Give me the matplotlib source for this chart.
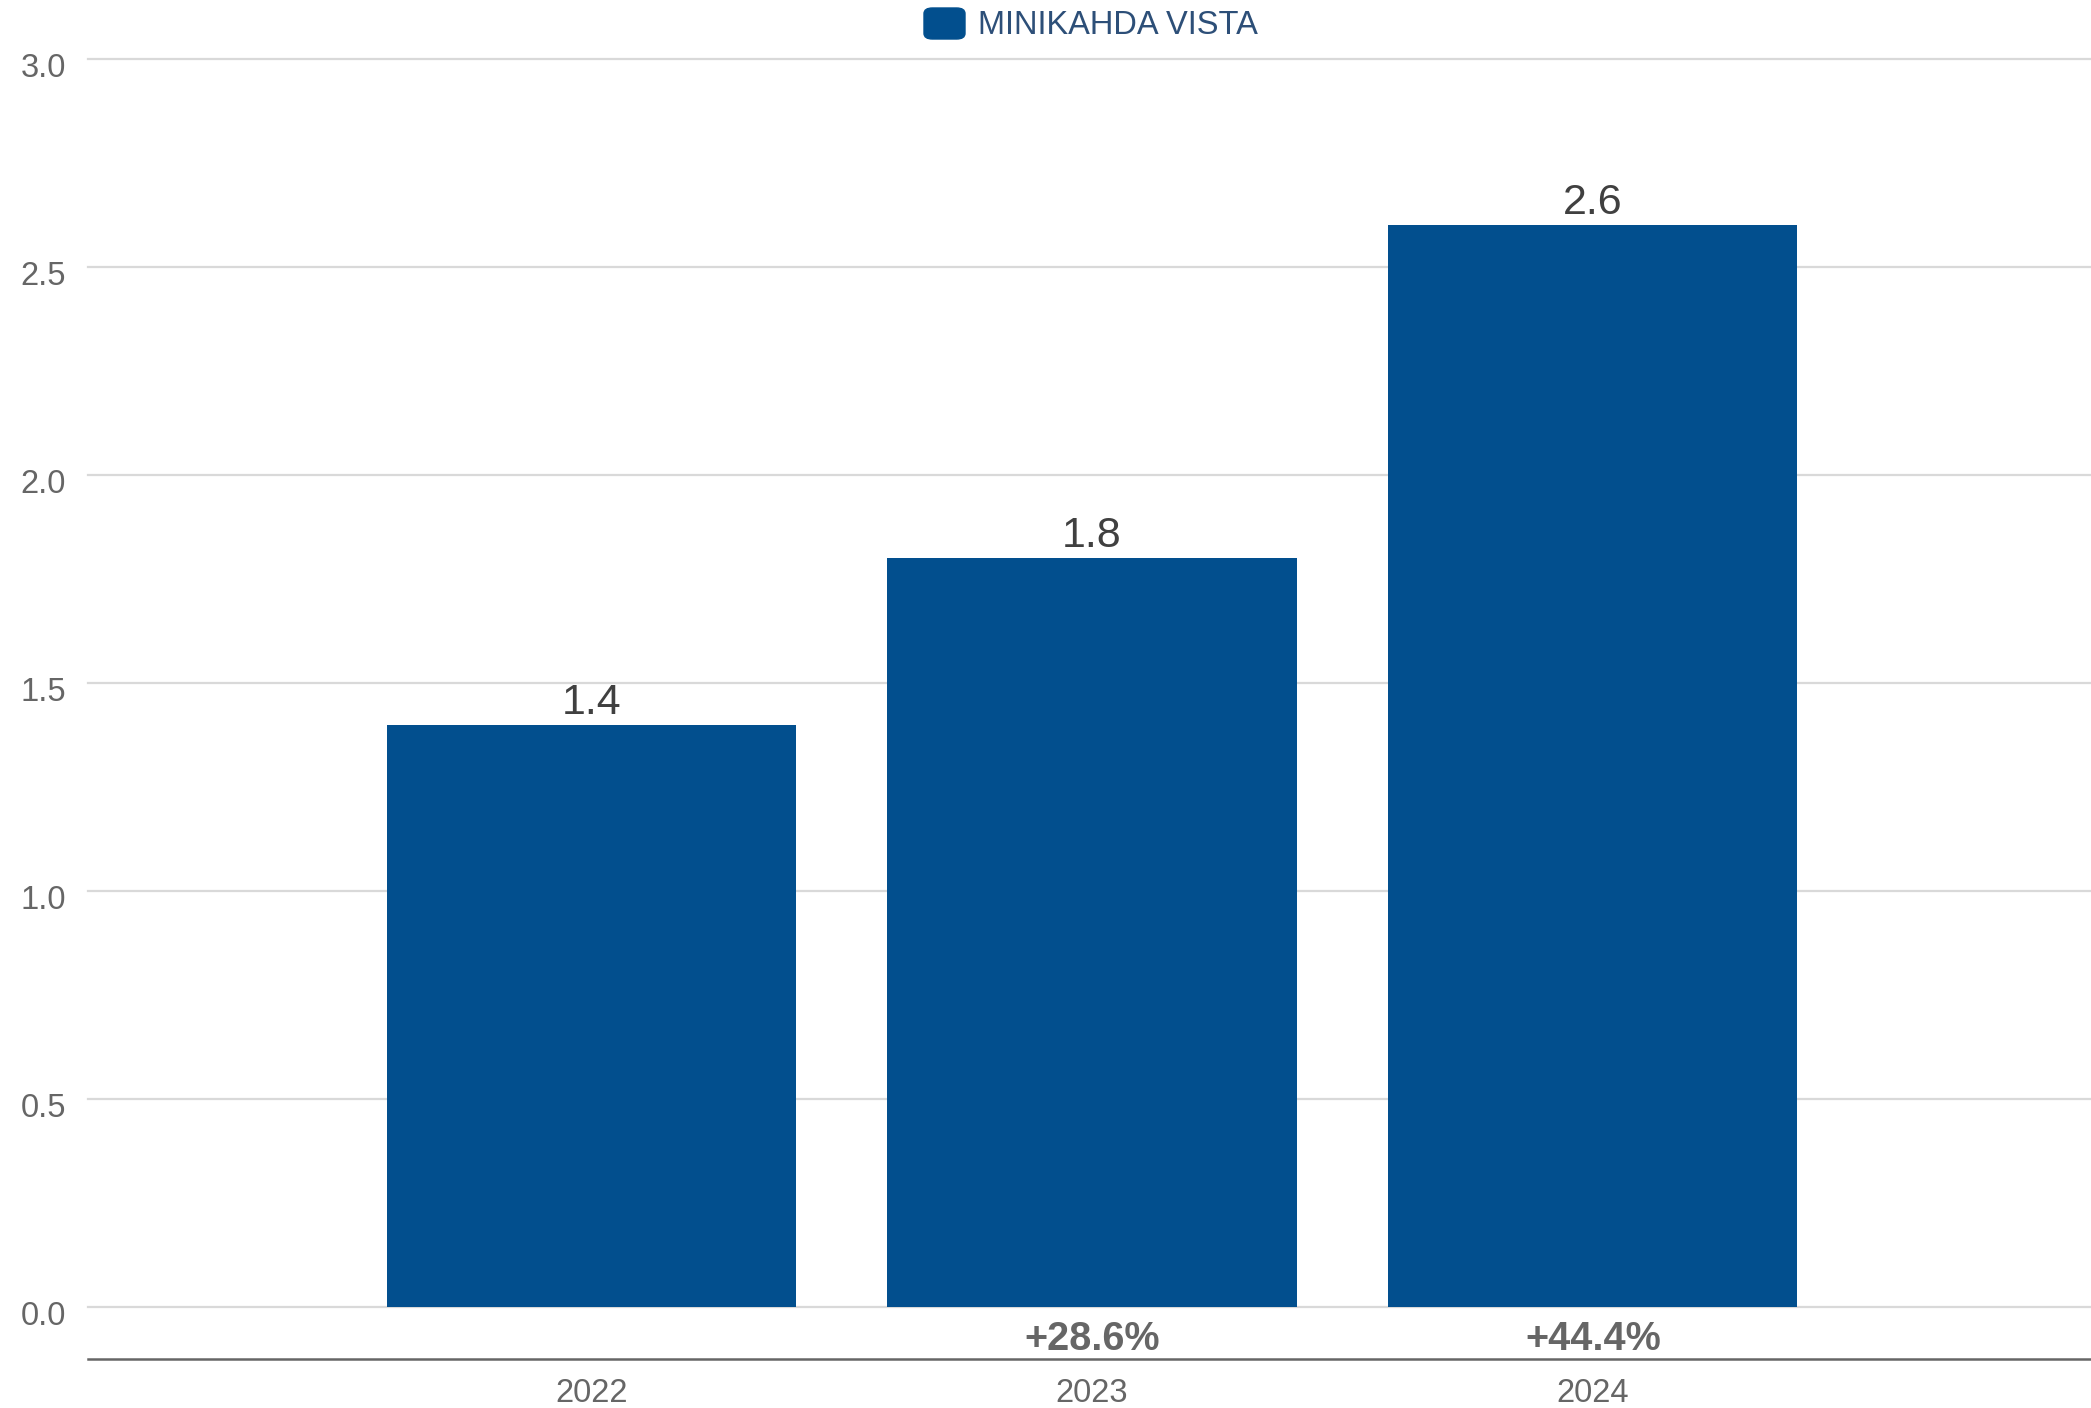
import matplotlib.pyplot as plt
import matplotlib.transforms as mtransforms
from matplotlib.patches import FancyBboxPatch

plt.rcParams['font.family'] = ['Liberation Sans', 'DejaVu Sans']

years = ['2022', '2023', '2024']
values = [1.4, 1.8, 2.6]
changes = ['', '+28.6%', '+44.4%']
series_name = 'MINIKAHDA VISTA'
yticks = [0.0, 0.5, 1.0, 1.5, 2.0, 2.5, 3.0]

W, H = 2091, 1408
fig = plt.figure(figsize=(W / 100, H / 100), dpi=100)
ax = fig.add_axes([88 / W, 1 - 1359 / H, (W - 88) / W, (1359 - 59) / H])

bar_color = '#024f8e'
x = list(range(len(years)))
ax.bar(x, values, width=0.817, color=bar_color, zorder=3)

ax.set_xlim(-1.005, 2.995)
ax.set_ylim(-0.125, 3.0)

# grid lines
for t in yticks:
    ax.axhline(t, color='#d9d9d9', lw=1.6, zorder=1, clip_on=False)

ax.set_yticks(yticks)
ax.set_yticklabels([f'{t:.1f}' for t in yticks], fontsize=23.5, color='#666666')
ax.tick_params(axis='y', length=0, pad=16)
# labels sit a little below their grid line
shift = mtransforms.ScaledTranslation(0, -0.06, fig.dpi_scale_trans)
for lbl in ax.get_yticklabels():
    lbl.set_transform(lbl.get_transform() + shift)

ax.set_xticks(x)
ax.set_xticklabels(years, fontsize=23.5, color='#666666')
ax.tick_params(axis='x', length=0, pad=14)

for s in ['top', 'right', 'left']:
    ax.spines[s].set_visible(False)
ax.spines['bottom'].set_color('#666666')
ax.spines['bottom'].set_linewidth(1.8)

# value labels on top
for xi, v in zip(x, values):
    ax.annotate(f'{v:.1f}', (xi, v), xytext=(0, 1.5), textcoords='offset points',
                ha='center', va='bottom', fontsize=31, color='#404040')

# change labels below the bars
for xi, c in zip(x, changes):
    if c:
        ax.text(xi, -0.078, c, ha='center', va='center', fontsize=28.5,
                fontweight='bold', color='#666666')

# legend
fig.patches.append(FancyBboxPatch((924 / W, 1 - 39 / H), 41 / W, 31 / H,
                                  boxstyle='round,pad=0,rounding_size=0.004',
                                  transform=fig.transFigure, color=bar_color))
fig.text(978 / W, 1 - 26 / H, series_name, ha='left', va='center',
         fontsize=23.5, color='#2d4f78')

fig.savefig('out.png', dpi=100)
